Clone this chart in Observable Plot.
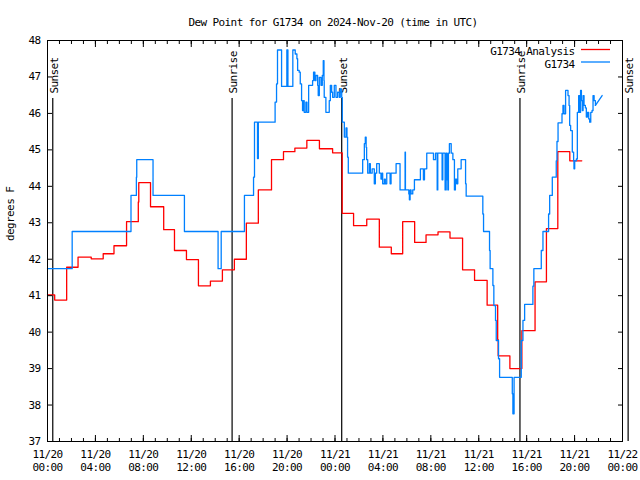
<!DOCTYPE html>
<html><head><meta charset="utf-8">
<script src="https://cdn.jsdelivr.net/npm/d3@7"></script>
<script src="https://cdn.jsdelivr.net/npm/@observablehq/plot@0.6"></script>
<style>body{margin:0;background:#fff}</style>
</head><body><div id="chart"></div>
<script>
const title = "Dew Point for G1734 on 2024-Nov-20 (time in UTC)";
const yLabel = "degrees F";
const seriesNames = ["G1734 Analysis", "G1734"];
const seriesColors = ["#ff0000", "#0080ff"];
const startUTC = Date.UTC(2024, 10, 20);
const endUTC = Date.UTC(2024, 10, 22);

// hours since 2024-11-20 00:00 UTC
const analysisHours = [0, 0.6, 1.6, 2.55, 3.65, 4.65, 5.55, 6.6, 7.58, 7.62, 8.6, 9.7, 10.6, 11.6, 12.6, 13.6, 14.6, 15.6, 16.6, 17.6, 18.7, 19.7, 20.65, 21.65, 22.7, 23.8, 24.6, 25.55, 26.65, 27.7, 28.7, 29.65, 30.65, 31.6, 32.6, 33.6, 34.65, 35.65, 36.7, 37.58, 37.62, 38.6, 39.6, 40.7, 41.65, 42.6, 43.6, 44.6];
const analysisValues = [41.02, 40.88, 41.78, 42.06, 42.01, 42.15, 42.37, 43.03, 43.57, 44.1, 43.44, 42.81, 42.24, 41.99, 41.27, 41.4, 41.71, 42.0, 42.99, 43.9, 44.73, 44.95, 45.05, 45.26, 45.03, 44.92, 43.26, 42.92, 43.1, 42.33, 42.15, 43.03, 42.46, 42.67, 42.75, 42.58, 41.71, 41.42, 40.74, 39.8, 39.35, 39.0, 40.04, 41.38, 42.84, 44.95, 44.7, 44.7];

const obsHours = [0, 2.06, 6.97, 7.42, 7.45, 8.81, 11.43, 14.24, 14.5, 16.44, 17.2, 17.28, 17.53, 17.6, 19.0, 19.12, 19.2, 19.54, 19.98, 20.07, 20.48, 20.68, 20.82, 20.88, 21.01, 21.1, 21.21, 21.29, 21.38, 21.43, 21.57, 21.66, 21.8, 22.13, 22.21, 22.32, 22.41, 22.55, 22.6, 22.69, 22.83, 22.94, 23.02, 23.08, 23.1, 23.24, 23.52, 23.61, 23.72, 23.8, 23.94, 24.08, 24.22, 24.36, 24.44, 24.56, 24.61, 24.78, 24.92, 25.0, 25.05, 25.11, 26.31, 26.45, 26.53, 26.6, 26.64, 26.73, 26.87, 26.95, 27.1, 27.28, 27.37, 27.48, 27.7, 27.84, 27.93, 27.98, 28.12, 28.2, 28.32, 28.6, 28.68, 29.1, 29.43, 29.85, 29.88, 30.16, 30.21, 30.27, 30.35, 30.49, 30.63, 31.13, 31.38, 31.47, 31.66, 32.22, 32.39, 32.53, 32.58, 32.94, 33.0, 33.19, 33.28, 33.36, 33.42, 33.47, 33.55, 33.7, 33.84, 33.97, 34.05, 34.16, 34.25, 34.53, 34.9, 34.95, 36.34, 36.4, 36.9, 36.95, 37.18, 37.26, 37.4, 37.46, 37.65, 37.74, 38.8, 38.85, 38.95, 39.55, 39.69, 39.83, 40.52, 40.6, 41.22, 41.36, 41.83, 41.92, 42.14, 42.47, 42.53, 42.62, 42.95, 43.03, 43.12, 43.25, 43.45, 43.54, 43.59, 43.67, 43.81, 43.92, 43.95, 44.01, 44.15, 44.23, 44.34, 44.42, 44.5, 44.57, 44.65, 44.71, 44.79, 44.9, 44.98, 45.07, 45.18, 45.26, 45.35, 45.46, 45.54, 45.63, 45.74];
const obsValues = [41.74, 42.76, 43.75, 44.25, 44.73, 43.75, 42.76, 41.74, 42.76, 43.75, 44.25, 45.76, 44.76, 45.76, 46.31, 46.81, 47.74, 46.74, 47.74, 46.74, 47.74, 47.63, 47.5, 47.18, 47.13, 46.81, 46.35, 46.08, 46.35, 46.03, 46.31, 46.03, 46.77, 46.9, 47.13, 46.9, 47.04, 46.77, 46.49, 46.99, 46.77, 47.04, 47.45, 46.9, 46.44, 46.03, 46.35, 46.77, 46.58, 46.44, 46.77, 46.44, 46.58, 46.44, 46.67, 46.44, 45.76, 45.35, 45.6, 45.35, 44.8, 44.36, 44.73, 45.17, 45.35, 45.07, 44.73, 44.36, 44.62, 44.36, 44.48, 44.07, 44.36, 44.62, 44.36, 44.2, 44.36, 44.07, 44.2, 44.07, 44.36, 44.07, 44.36, 44.62, 43.9, 44.94, 43.9, 43.79, 43.63, 43.9, 43.79, 43.9, 44.18, 44.48, 44.18, 44.48, 44.91, 44.73, 44.91, 43.9, 44.91, 44.18, 44.91, 43.9, 44.91, 44.18, 43.9, 44.91, 45.17, 44.91, 44.73, 43.9, 44.2, 44.07, 44.48, 44.73, 44.07, 43.73, 43.24, 42.76, 42.24, 41.74, 41.28, 40.73, 40.32, 39.77, 39.27, 38.76, 38.31, 37.76, 38.76, 39.77, 40.32, 40.76, 41.26, 41.74, 42.24, 42.76, 43.24, 43.75, 44.25, 44.7, 45.23, 45.74, 45.99, 46.22, 45.99, 46.63, 46.49, 46.22, 45.67, 45.53, 44.94, 44.7, 44.48, 44.7, 44.75, 46.03, 46.49, 46.03, 46.63, 46.35, 46.08, 46.49, 46.22, 46.15, 45.9, 46.03, 45.85, 45.76, 46.03, 46.08, 46.49, 46.35, 46.22];
const obsTailHours = [45.74, 46.3];
const obsTailValues = [46.22, 46.49];

const eventHours = [0.44, 15.41, 24.56, 39.44, 48.47];
const eventLabels = ["Sunset", "Sunrise", "Sunset", "Sunrise", "Sunset"];
const yTicks = d3.range(37, 49);
const xTickFormat = "%m/%d\n%H:%M";

const toDate = h => new Date(startUTC + h * 3600e3);
const analysis = analysisHours.map((h, i) => ({t: toDate(h), v: analysisValues[i]}));
const obs = obsHours.map((h, i) => ({t: toDate(h), v: obsValues[i]}));
const obsTail = obsTailHours.map((h, i) => ({t: toDate(h), v: obsTailValues[i]}));
const events = eventHours.map((h, i) => ({t: toDate(h), label: eventLabels[i]}));
const majorX = d3.utcHour.every(4).range(new Date(startUTC), new Date(endUTC + 1));
const minorX = d3.utcHour.every(1).range(new Date(startUTC), new Date(endUTC + 1));
const blank = () => "";

const W = 640, H = 480, ML = 47, MR = 18, MT = 40, MB = 39;

const plot = Plot.plot({
  width: W, height: H,
  marginLeft: ML, marginRight: MR, marginTop: MT, marginBottom: MB,
  style: {fontFamily: "'DejaVu Sans Mono', monospace", fontSize: "11px", letterSpacing: "-0.6px", background: "white", color: "black"},
  x: {type: "utc", domain: [new Date(startUTC), new Date(endUTC)]},
  y: {domain: [37, 48]},
  marks: [
    Plot.ruleX(events, {x: "t", insetTop: 58, stroke: "black", strokeWidth: 1.2}),
    Plot.text(events, {x: "t", text: "label", rotate: -90, textAnchor: "start", frameAnchor: "top", dy: 53, dx: -3, fill: "black"}),
    Plot.line(analysis, {x: "t", y: "v", curve: "step-after", stroke: seriesColors[0], strokeWidth: 1.3}),
    Plot.line(obs, {x: "t", y: "v", curve: "step-after", stroke: seriesColors[1], strokeWidth: 1.3}),
    Plot.line(obsTail, {x: "t", y: "v", stroke: seriesColors[1], strokeWidth: 1.3}),
    Plot.frame({stroke: "black"}),
    Plot.axisX(majorX, {tickSize: 0, tickPadding: 7, tickFormat: d3.utcFormat(xTickFormat), lineHeight: 1.2, label: null}),
    Plot.axisX(majorX, {anchor: "bottom", tickSize: -6, tickFormat: blank, label: null}),
    Plot.axisX(majorX, {anchor: "top", tickSize: -6, tickFormat: blank, label: null}),
    Plot.axisX(minorX, {anchor: "bottom", tickSize: -3, tickFormat: blank, label: null}),
    Plot.axisX(minorX, {anchor: "top", tickSize: -3, tickFormat: blank, label: null}),
    Plot.axisY(yTicks, {tickSize: 0, tickPadding: 7, label: null}),
    Plot.axisY(yTicks, {anchor: "left", tickSize: -5, tickFormat: blank, label: null}),
    Plot.axisY(yTicks, {anchor: "right", tickSize: -5, tickFormat: blank, label: null}),
    Plot.text([yLabel], {frameAnchor: "left", rotate: -90, dx: -37, fill: "black"}),
    Plot.text([title], {frameAnchor: "top", dy: -22.5, dx: -2, fill: "black"}),
    Plot.text([seriesNames[0]], {frameAnchor: "top-right", textAnchor: "end", dx: -48, dy: 7, fill: "black"}),
    Plot.text([seriesNames[1]], {frameAnchor: "top-right", textAnchor: "end", dx: -48, dy: 20, fill: "black"})
  ]
});

// legend swatches
const svg = d3.select(plot);
[[49.5, seriesColors[0]], [62, seriesColors[1]]].forEach(([y, c]) => {
  svg.append("line")
    .attr("x1", W - MR - 41).attr("x2", W - MR - 12)
    .attr("y1", y).attr("y2", y)
    .attr("stroke", c).attr("stroke-width", 1.3);
});
document.getElementById("chart").append(plot);
</script>
</body></html>
